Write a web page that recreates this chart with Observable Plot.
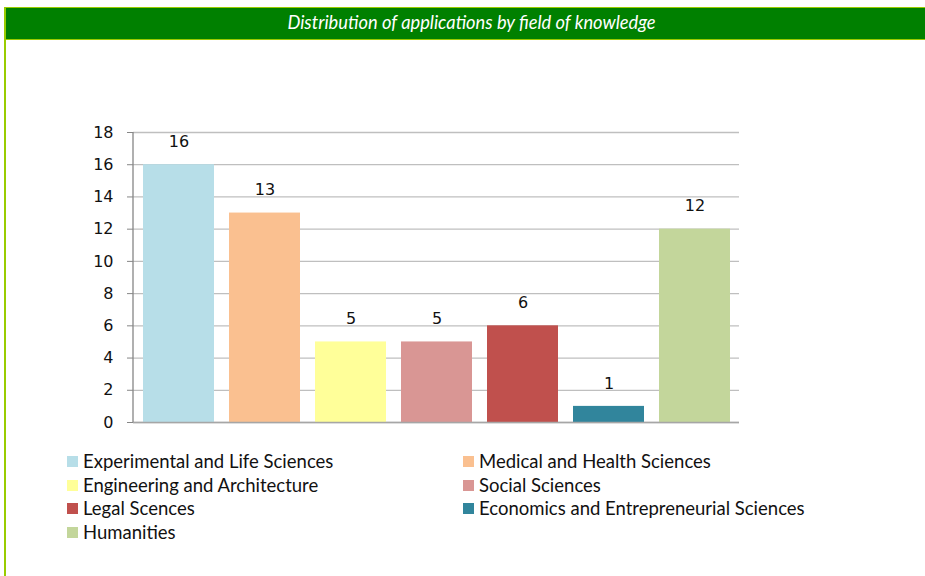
<!DOCTYPE html>
<html>
<head>
<meta charset="utf-8">
<script src="https://cdn.jsdelivr.net/npm/d3@7"></script>
<script src="https://cdn.jsdelivr.net/npm/@observablehq/plot@0.6"></script>
<style>
  html, body { margin: 0; padding: 0; background: #fff; width: 925px; height: 576px; overflow: hidden; }
  #wrap { position: relative; width: 925px; height: 576px; }
  #vline { position: absolute; left: 4px; top: 7px; width: 2px; bottom: 0; background: #99cc00; }
  #titlebar { position: absolute; left: 4px; top: 7px; width: 933px; height: 33px; box-sizing: border-box;
    background: #008000; border-top: 1.6px solid #99cc00; border-bottom: 1.6px solid #99cc00; border-left: 2px solid #99cc00;
    color: #fff; font-family: Lato, sans-serif; font-style: italic; font-size: 18.3px; line-height: 29px; text-align: center; }
  #chart { position: absolute; left: 0; top: 0; }
  #legend { position: absolute; left: 0; top: 0; font-family: Lato, sans-serif; font-size: 18.5px; color: #111; }
  .item { position: absolute; height: 24px; line-height: 24px; white-space: nowrap; }
  .sw { position: absolute; left: 0; top: 7px; width: 11px; height: 11px; }
  .lab { position: absolute; left: 16px; top: 0; }
</style>
</head>
<body>
<div id="wrap">
  <div id="vline"></div>
  <div id="titlebar">Distribution of applications by field of knowledge</div>
  <div id="chart"></div>
  <div id="legend"></div>
</div>
<script>
const categories = [
  "Experimental and Life Sciences",
  "Medical and Health Sciences",
  "Engineering and Architecture",
  "Social Sciences",
  "Legal Scences",
  "Economics and Entrepreneurial Sciences",
  "Humanities"
];
const values = [16, 13, 5, 5, 6, 1, 12];
const colors = ["#b7dee8", "#fac090", "#ffff99", "#d99694", "#c0504d", "#31859c", "#c3d69b"];
const yTicks = [0, 2, 4, 6, 8, 10, 12, 14, 16, 18];

const data = categories.map((c, i) => ({category: c, value: values[i], color: colors[i]}));

const chart = Plot.plot({
  width: 925,
  height: 440,
  marginTop: 132,
  marginBottom: 18,
  marginLeft: 133,
  marginRight: 186,
  style: {background: "transparent", overflow: "visible", fontFamily: "'DejaVu Sans', sans-serif", fontSize: "16px", color: "#111"},
  x: {domain: categories, paddingInner: 0.18, paddingOuter: 0.09, axis: null},
  y: {domain: [0, 18], ticks: yTicks},
  color: {domain: categories, range: colors},
  marks: [
    Plot.gridY(yTicks, {stroke: "#bfbfbf", strokeOpacity: 1, strokeWidth: 1.3}),
    Plot.barY(data, {x: "category", y: "value", fill: "category"}),
    Plot.ruleY([0], {stroke: "#a6a6a6", strokeWidth: 1.3}),
    Plot.axisY(yTicks, {tickSize: 6, tickPadding: 14, stroke: "#868686", fontSize: 16, fill: "#111", label: null}),
    Plot.text(data, {x: "category", y: "value", text: d => String(d.value), dy: -23, fontSize: 16, fill: "#111", lineAnchor: "middle"})
  ]
});
document.getElementById("chart").appendChild(chart);

// left axis line drawn from the y scale
const ys = chart.scale("y");
d3.select(chart).append("line")
  .attr("x1", 133).attr("x2", 133)
  .attr("y1", ys.apply(18)).attr("y2", ys.apply(0))
  .attr("stroke", "#868686").attr("stroke-width", 1.3);

// legend
const legend = document.getElementById("legend");
const colX = [67, 463];
const rowY = [449, 473, 496, 520];
categories.forEach((c, i) => {
  const item = document.createElement("div");
  item.className = "item";
  item.style.left = colX[i % 2] + "px";
  item.style.top = rowY[Math.floor(i / 2)] + "px";
  const sw = document.createElement("div");
  sw.className = "sw";
  sw.style.background = colors[i];
  const lab = document.createElement("div");
  lab.className = "lab";
  lab.textContent = c;
  item.appendChild(sw);
  item.appendChild(lab);
  legend.appendChild(item);
});
</script>
</body>
</html>
